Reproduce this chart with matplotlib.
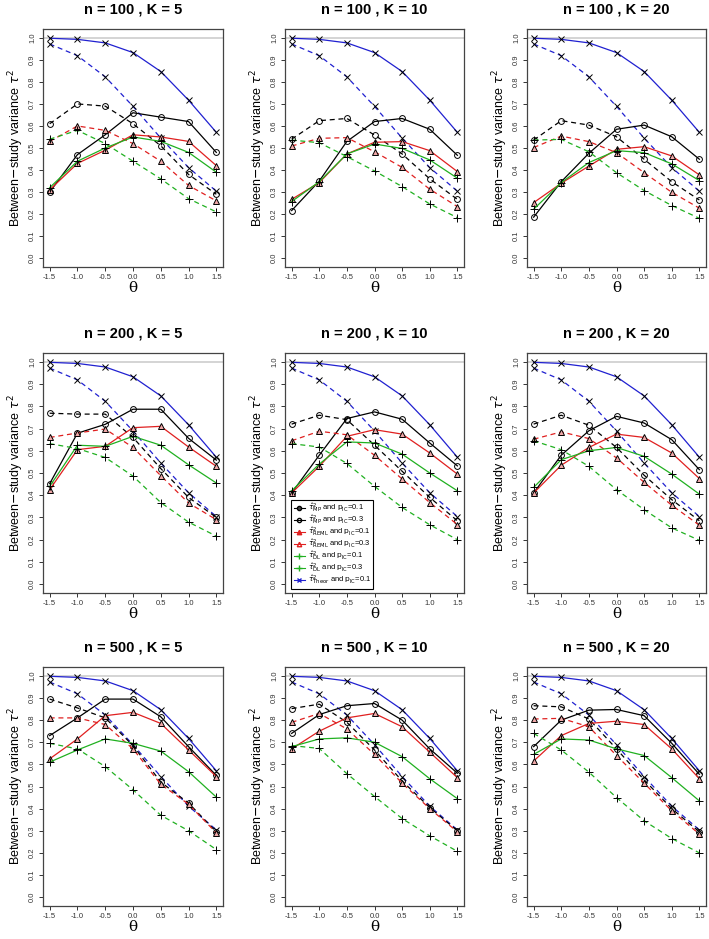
import matplotlib
matplotlib.use("Agg")
import matplotlib.pyplot as plt
from matplotlib.lines import Line2D

plt.rcParams['font.family'] = ['Liberation Sans', 'DejaVu Sans']
plt.rcParams['mathtext.fontset'] = 'dejavusans'

theta = [-1.5, -1.0, -0.5, 0.0, 0.5, 1.0, 1.5]
n_values = [100, 200, 500]
K_values = [5, 10, 20]

# Theoretical (same in all panels)
theor_p01 = [0.998, 0.993, 0.977, 0.933, 0.847, 0.717, 0.571]
theor_p03 = [0.972, 0.919, 0.823, 0.689, 0.545, 0.411, 0.304]

# keyed by (n, K)
mp_p01 = {
    (100, 5):  [0.30, 0.47, 0.56, 0.66, 0.64, 0.62, 0.48],
    (100, 10): [0.216, 0.35, 0.53, 0.62, 0.634, 0.585, 0.467],
    (100, 20): [0.186, 0.347, 0.476, 0.585, 0.604, 0.551, 0.449],
    (200, 5):  [0.452, 0.679, 0.719, 0.787, 0.787, 0.656, 0.558],
    (200, 10): [0.41, 0.58, 0.745, 0.775, 0.742, 0.635, 0.532],
    (200, 20): [0.41, 0.58, 0.69, 0.755, 0.725, 0.65, 0.515],
    (500, 5):  [0.73, 0.81, 0.895, 0.895, 0.815, 0.68, 0.55],
    (500, 10): [0.74, 0.825, 0.865, 0.875, 0.80, 0.67, 0.56],
    (500, 20): [0.68, 0.80, 0.845, 0.848, 0.82, 0.695, 0.555],
}
mp_p03 = {
    (100, 5):  [0.61, 0.70, 0.69, 0.61, 0.51, 0.38, 0.29],
    (100, 10): [0.54, 0.624, 0.634, 0.559, 0.473, 0.36, 0.267],
    (100, 20): [0.536, 0.624, 0.604, 0.551, 0.449, 0.347, 0.264],
    (200, 5):  [0.769, 0.765, 0.765, 0.66, 0.52, 0.39, 0.30],
    (200, 10): [0.72, 0.76, 0.74, 0.625, 0.508, 0.39, 0.285],
    (200, 20): [0.72, 0.76, 0.715, 0.615, 0.49, 0.38, 0.285],
    (500, 5):  [0.895, 0.855, 0.81, 0.685, 0.52, 0.425, 0.295],
    (500, 10): [0.852, 0.872, 0.79, 0.665, 0.525, 0.405, 0.30],
    (500, 20): [0.865, 0.86, 0.805, 0.67, 0.53, 0.40, 0.295],
}
reml_p01 = {
    (100, 5):  [0.31, 0.43, 0.49, 0.56, 0.55, 0.53, 0.42],
    (100, 10): [0.267, 0.343, 0.473, 0.526, 0.529, 0.488, 0.393],
    (100, 20): [0.252, 0.34, 0.418, 0.494, 0.506, 0.464, 0.378],
    (200, 5):  [0.425, 0.605, 0.62, 0.704, 0.71, 0.617, 0.53],
    (200, 10): [0.41, 0.53, 0.665, 0.695, 0.675, 0.59, 0.495],
    (200, 20): [0.41, 0.535, 0.615, 0.675, 0.66, 0.59, 0.475],
    (500, 5):  [0.625, 0.715, 0.82, 0.835, 0.785, 0.665, 0.545],
    (500, 10): [0.67, 0.75, 0.81, 0.83, 0.77, 0.655, 0.54],
    (500, 20): [0.615, 0.73, 0.785, 0.795, 0.78, 0.67, 0.535],
}
reml_p03 = {
    (100, 5):  [0.53, 0.60, 0.58, 0.52, 0.44, 0.33, 0.26],
    (100, 10): [0.509, 0.544, 0.547, 0.483, 0.412, 0.313, 0.234],
    (100, 20): [0.502, 0.554, 0.529, 0.479, 0.388, 0.299, 0.227],
    (200, 5):  [0.66, 0.68, 0.698, 0.615, 0.488, 0.365, 0.29],
    (200, 10): [0.645, 0.688, 0.672, 0.58, 0.473, 0.367, 0.268],
    (200, 20): [0.652, 0.685, 0.655, 0.568, 0.458, 0.355, 0.265],
    (500, 5):  [0.81, 0.81, 0.78, 0.67, 0.51, 0.42, 0.29],
    (500, 10): [0.79, 0.83, 0.76, 0.645, 0.515, 0.40, 0.295],
    (500, 20): [0.805, 0.808, 0.77, 0.64, 0.515, 0.39, 0.285],
}
dl_p01 = {
    (100, 5):  [0.32, 0.44, 0.50, 0.55, 0.53, 0.48, 0.39],
    (100, 10): [0.257, 0.347, 0.473, 0.518, 0.498, 0.446, 0.363],
    (100, 20): [0.222, 0.343, 0.434, 0.488, 0.479, 0.428, 0.352],
    (200, 5):  [0.44, 0.625, 0.62, 0.665, 0.625, 0.537, 0.455],
    (200, 10): [0.42, 0.54, 0.64, 0.635, 0.585, 0.50, 0.42],
    (200, 20): [0.435, 0.56, 0.60, 0.615, 0.575, 0.495, 0.405],
    (500, 5):  [0.61, 0.665, 0.715, 0.695, 0.66, 0.567, 0.452],
    (500, 10): [0.68, 0.715, 0.72, 0.70, 0.635, 0.535, 0.445],
    (500, 20): [0.645, 0.715, 0.71, 0.67, 0.64, 0.54, 0.435],
}
dl_p03 = {
    (100, 5):  [0.54, 0.58, 0.52, 0.44, 0.36, 0.27, 0.21],
    (100, 10): [0.536, 0.524, 0.461, 0.396, 0.325, 0.246, 0.184],
    (100, 20): [0.536, 0.539, 0.483, 0.388, 0.307, 0.239, 0.181],
    (200, 5):  [0.632, 0.61, 0.57, 0.486, 0.367, 0.279, 0.216],
    (200, 10): [0.632, 0.617, 0.543, 0.44, 0.345, 0.267, 0.20],
    (200, 20): [0.645, 0.605, 0.53, 0.425, 0.335, 0.253, 0.197],
    (500, 5):  [0.695, 0.67, 0.59, 0.485, 0.37, 0.30, 0.215],
    (500, 10): [0.685, 0.672, 0.558, 0.455, 0.355, 0.277, 0.207],
    (500, 20): [0.74, 0.665, 0.565, 0.45, 0.345, 0.265, 0.20],
}

legend_labels = [
    r'$\hat{\tau}^2_{\mathrm{MP}}$ and $\mathrm{p_{IC}}$=0.1',
    r'$\hat{\tau}^2_{\mathrm{MP}}$ and $\mathrm{p_{IC}}$=0.3',
    r'$\hat{\tau}^2_{\mathrm{REML}}$ and $\mathrm{p_{IC}}$=0.1',
    r'$\hat{\tau}^2_{\mathrm{REML}}$ and $\mathrm{p_{IC}}$=0.3',
    r'$\hat{\tau}^2_{\mathrm{DL}}$ and $\mathrm{p_{IC}}$=0.1',
    r'$\hat{\tau}^2_{\mathrm{DL}}$ and $\mathrm{p_{IC}}$=0.3',
    r'$\hat{\tau}^2_{\mathrm{Theor}}$ and $\mathrm{p_{IC}}$=0.1',
]

W, H = 709, 939
fig = plt.figure(figsize=(W / 100, H / 100), dpi=100)

col_lr = [(43, 223), (285, 464), (527, 706)]
row_tb = [(29, 267), (353, 593), (667, 906)]

BLUE = '#2020d0'
RED = '#e02020'
GREEN = '#20b020'
TRI_FC = '#f0a8a8'
DASH = (4, 3)

def series(ax, y, color, ls, marker, mfc, ms):
    kw = dict(color=color, lw=0.9, marker=marker, markersize=ms,
              markeredgecolor='black', markerfacecolor=mfc,
              markeredgewidth=0.7)
    line, = ax.plot(theta, y, **kw)
    if ls == 'dashed':
        line.set_dashes(DASH)

for i, n in enumerate(n_values):
    for j, K in enumerate(K_values):
        l, r = col_lr[j]
        t, b = row_tb[i]
        ax = fig.add_axes([l / W, 1 - b / H, (r - l) / W, (b - t) / H])
        key = (n, K)
        ax.axhline(1.0, color='#d4d4d4', lw=1.4, zorder=0)
        series(ax, theor_p01, BLUE, 'solid', 'x', 'none', 4.5)
        series(ax, theor_p03, BLUE, 'dashed', 'x', 'none', 4.5)
        series(ax, mp_p01[key], 'black', 'solid', 'o', 'none', 4.2)
        series(ax, mp_p03[key], 'black', 'dashed', 'o', 'none', 4.2)
        series(ax, reml_p01[key], RED, 'solid', '^', TRI_FC, 4.5)
        series(ax, reml_p03[key], RED, 'dashed', '^', TRI_FC, 4.5)
        series(ax, dl_p01[key], GREEN, 'solid', '+', 'none', 6)
        series(ax, dl_p03[key], GREEN, 'dashed', '+', 'none', 6)

        ax.set_xlim(-1.62, 1.62)
        ax.set_ylim(-0.04, 1.04)
        ax.set_xticks(theta)
        ax.set_xticklabels(['%.1f' % v for v in theta])
        yt = [k / 10 for k in range(11)]
        ax.set_yticks(yt)
        ax.set_yticklabels(['%.1f' % v for v in yt], rotation=90, va='center')
        ax.tick_params(axis='both', labelsize=5.5, length=3, width=0.7,
                       direction='out', pad=2, colors='#333333')
        for s in ax.spines.values():
            s.set_color('#444444')
            s.set_linewidth(0.9)
        ax.set_xlabel('θ', fontsize=11, labelpad=0, family=['DejaVu Serif'])
        ax.set_ylabel(r'Between$-$study variance $\tau^2$', fontsize=9, labelpad=2)
        ax.set_title('n = %d , K = %d' % (n, K), fontsize=10.5,
                     fontweight='bold', pad=11)

        if key == (200, 10):
            handles = [
                Line2D([], [], color='black', marker='o', mfc='#444444', mec='black', ms=3.0, lw=0.8),
                Line2D([], [], color='black', marker='o', mfc='none', mec='black', ms=3.0, lw=0.8),
                Line2D([], [], color=RED, marker='^', mfc=RED, mec=RED, ms=3.2, lw=0.8),
                Line2D([], [], color=RED, marker='^', mfc='none', mec=RED, ms=3.2, lw=0.8),
                Line2D([], [], color=GREEN, marker='+', mec=GREEN, ms=4.5, lw=0.8),
                Line2D([], [], color=GREEN, marker='+', mec=GREEN, ms=4.5, lw=0.8),
                Line2D([], [], color=BLUE, marker='x', mec=BLUE, ms=3.2, lw=0.8),
            ]
            leg = ax.legend(handles, legend_labels, loc='lower left',
                            bbox_to_anchor=(0.035, 0.015), borderaxespad=0,
                            fontsize=5.4, handlelength=1.5, handletextpad=0.4,
                            labelspacing=-0.15, borderpad=0.3, fancybox=False,
                            framealpha=1, edgecolor='black')
            leg.get_frame().set_linewidth(0.8)

fig.savefig('out.png', dpi=100)
